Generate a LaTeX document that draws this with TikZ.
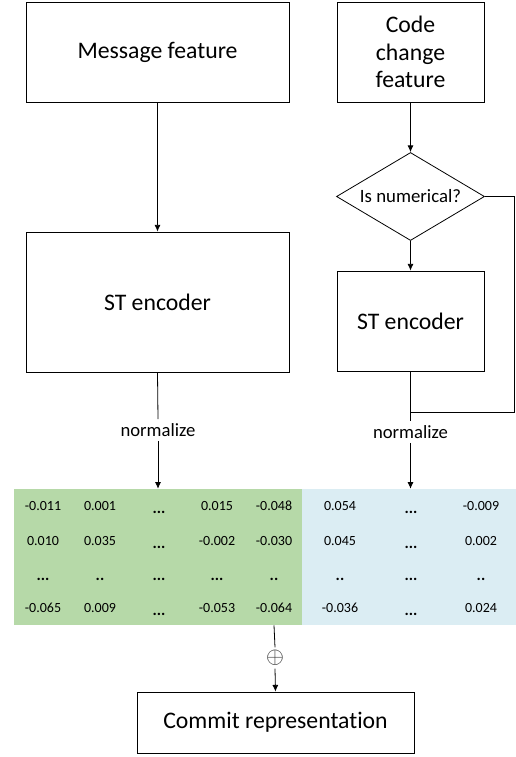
\documentclass[tikz,border=0pt]{standalone}
\usepackage{fontspec}
\setmainfont{Carlito}[Ligatures=NoCommon]
\usepackage{amsmath,amssymb}
\usepackage{xcolor}
\usetikzlibrary{shapes.geometric,arrows.meta}
\definecolor{vecgreen}{RGB}{182,217,168}
\definecolor{vecblue}{RGB}{219,237,243}
\newcommand{\dthree}{...}
\newcommand{\dtwo}{..}

\begin{document}
\begin{tikzpicture}[x=0.75pt,y=-0.75pt,
  box/.style={draw,line width=0.6pt,inner sep=0pt,align=center,font=\fontsize{17.8}{20.5}\selectfont},
  lbl/.style={inner sep=3pt,font=\fontsize{14}{16}\selectfont},
  num/.style={anchor=base,inner sep=0pt,font=\fontsize{10.5}{12}\selectfont},
  dotsb/.style={anchor=base,inner sep=0pt,font=\fontsize{12}{12}\selectfont\bfseries},
  arr/.style={line width=0.6pt,-{Latex[length=5pt,width=4.5pt]}},
  ln/.style={line width=0.6pt}]
  \useasboundingbox (0,0) rectangle (516,757);
  % boxes
  \node[box,minimum width=197.25pt,minimum height=75pt] (msg) at (157.5,52) {Message feature};
  \node[box,minimum width=110.25pt,minimum height=75pt] (code) at (410.5,52) {Code\\change\\feature};
  \node[box,minimum width=197.25pt,minimum height=105pt] (encL) at (157.5,302) {ST encoder};
  \node[draw,line width=0.6pt,diamond,aspect=1.68,minimum width=111pt,minimum height=66pt,inner sep=0pt,
        font=\fontsize{14.1}{16}\selectfont] (isnum) at (410.5,196.5) {Is numerical?};
  \node[box,minimum width=110.25pt,minimum height=75pt] (encR) at (410.5,321) {ST encoder};
  \node[lbl] (normL) at (158,430) {normalize};
  \node[lbl] (normR) at (410.5,432) {normalize};
  % vectors
  \node[fill=vecgreen,inner sep=0pt,minimum width=216pt,minimum height=102pt] (msgvec) at (158,557) {};
  \node[fill=vecblue,inner sep=0pt,minimum width=160.5pt,minimum height=102pt] (codevec) at (409,557) {};
  \foreach \r/\yb/\row in {1/510.5/{-0.011,0.001,0.015,-0.048,0.054,-0.009},
                           2/545.5/{0.010,0.035,-0.002,-0.030,0.045,0.002},
                           4/612.5/{-0.065,0.009,-0.053,-0.064,-0.036,0.024}}{
    \foreach \v [count=\c] in \row {
      \pgfmathsetmacro{\xx}{{43,100,217,274,340,481}[\c-1]}
      \node[num] (v\r\c) at (\xx,\yb) {\v};
    }
    \node[dotsb] (d\r1) at (159,\yb+3) {\dthree};
    \node[dotsb] (d\r2) at (411,\yb+3) {\dthree};
  }
  \foreach \x/\t [count=\c] in {43/\dthree,100/\dtwo,159/\dthree,217/\dthree,274/\dtwo,340/\dtwo,411/\dthree,481/\dtwo}{
    \node[dotsb] (d3\c) at (\x,580.5) {\t};}
  \node[inner sep=2pt,text=black!80,font=\fontsize{17}{17}\selectfont] (plus) at (275,658) {$\oplus$};
  \node[box,minimum width=207.75pt,minimum height=45.75pt] (commit) at (275.5,722.5) {Commit representation};
  % connectors
  \draw[arr] (msg.south) -- (encL.north);
  \draw[arr] (code.south) -- (isnum.north);
  \draw[arr] (isnum.south) -- (encR.north);
  \coordinate (join) at (410.5,412);
  \coordinate (bend) at (514,412);
  \draw[ln] (isnum.east) -| (bend) -- (join);
  \draw[ln] (encR.south) -- (normR.north);
  \draw[arr] (normR.south) -- (normR |- codevec.north);
  \draw[ln] (encL.south) -- (normL.north);
  \draw[arr] (normL.south) -- (msgvec.north);
  \coordinate (cat) at (v44 |- msgvec.south);
  \draw[ln] (cat) -- (plus.north);
  \draw[arr] (plus.south) -- (commit.north);
\end{tikzpicture}
\end{document}
